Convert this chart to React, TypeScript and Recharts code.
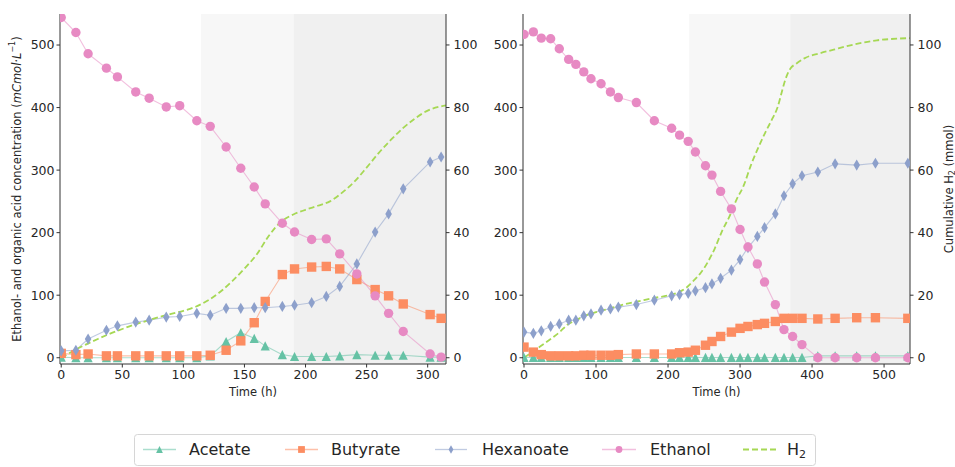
import React from 'react';
import { ComposedChart, Line, XAxis, YAxis, ReferenceArea } from 'recharts';

const FONT = '"DejaVu Sans", Verdana, sans-serif';
const C_ACE = '#66c2a5';
const C_BUT = '#fc8d62';
const C_HEX = '#8da0cb';
const C_ETH = '#e78ac3';
const C_H2 = '#a6d854';
const AXIS = '#333333';
const TXT = '#262626';

// ---------- Left panel data ----------
const leftTime = [0, 12, 22, 37, 46, 61, 72, 86, 97, 111, 122, 135, 147, 158, 167, 181, 191, 205, 217, 228, 242, 257, 268, 280, 302, 311];
const leftAcetate = [1, 0, 0, 0, 0, 0, 0, 0, 0, 0, 3, 26, 40, 31, 19, 5, 2, 2, 2, 3, 5, 4, 4, 4, 1, 1];
const leftButyrate = [7, 5, 6, 3, 3, 3, 3, 3, 3, 3, 4, 12, 27, 56, 90, 133, 142, 145, 146, 142, 125, 109, 99, 86, 69, 63];
const leftHexanoate = [11, 12, 30, 44, 51, 57, 60, 65, 66, 71, 68, 79, 79, 80, 80, 82, 84, 88, 98, 114, 150, 201, 230, 270, 313, 321];
const leftEthanol = [544, 520, 486, 463, 449, 425, 415, 401, 403, 379, 370, 337, 303, 273, 246, 215, 201, 189, 190, 166, 134, 99, 71, 42, 6, 1];
const leftH2Time = [0, 10, 20, 30, 40, 50, 60, 70, 80, 90, 100, 110, 120, 130, 140, 150, 160, 170, 180, 190, 200, 210, 220, 230, 240, 250, 260, 270, 280, 290, 300, 310, 315];
const leftH2 = [0, 2.2, 4.2, 6, 7.7, 9.2, 10.6, 11.8, 13, 14, 15, 16.3, 18.3, 21, 24.5, 28.5, 33, 39, 43.5, 45.8, 47.3, 48.6, 50, 52.8, 56.3, 60.8, 65.5, 69.7, 73.5, 76.6, 79, 80.3, 80.7];
const leftPhases = [114.5, 190.4, 315];
const leftXDomain = [-1, 315];
const leftXTicks = [0, 50, 100, 150, 200, 250, 300];

// ---------- Right panel data ----------
const rightTime = [0, 13, 24, 37, 49, 62, 72, 83, 93, 107, 120, 131, 156, 181, 205, 216, 228, 238, 252, 261, 273, 288, 300, 311, 324, 334, 349, 361, 373, 386, 408, 432, 462, 488, 533];
const rightAcetate = [0.5, 0.5, 0.5, 0.5, 0.5, 0.5, 0.5, 0.5, 0.5, 0.5, 0.5, 0.5, 0.5, 0.5, 0.5, 0.5, 0.5, 0.5, 0.5, 0.5, 0.5, 0.5, 0.5, 0.5, 0.5, 0.5, 0.5, 0.5, 0.5, 0.5, 3, 3, 3, 3, 3];
const rightButyrate = [17, 9, 5, 3, 3, 3, 3, 4, 4, 4, 4, 5, 6, 6, 6, 8, 9, 12, 20, 26, 34, 41, 47, 50, 53, 55, 58, 63, 63, 63, 62, 63, 64, 64, 63];
const rightHexanoate = [41, 39, 43, 50, 54, 60, 60, 67, 70, 76, 78, 81, 85, 92, 99, 101, 103, 107, 112, 118, 127, 140, 157, 176, 194, 208, 230, 259, 278, 291, 297, 310, 308, 311, 311];
const rightEthanol = [517, 521, 511, 510, 494, 477, 469, 457, 446, 438, 425, 416, 408, 379, 367, 356, 346, 329, 307, 292, 266, 238, 205, 177, 150, 121, 85, 45, 34, 21, 0, 0, 0, 0, 0];
const rightH2Time = [0, 10, 20, 30, 40, 50, 60, 70, 80, 90, 100, 120, 140, 160, 180, 200, 215, 225, 235, 245, 255, 265, 275, 285, 295, 305, 315, 325, 335, 345, 352, 358, 363, 370, 378, 390, 410, 430, 450, 470, 490, 510, 536];
const rightH2 = [0, 1.6, 3.2, 4.8, 6.5, 8.3, 10.5, 11.8, 12.9, 13.9, 14.6, 15.8, 17.1, 18.1, 19.1, 19.9, 21, 22.3, 24.5, 27, 30.5, 35, 40.5, 45, 50.5, 55, 61.5, 67, 72, 76.5, 80, 85, 89, 92.5, 94, 95.8, 97.3, 98.5, 99.7, 100.7, 101.5, 101.9, 102.2];
const rightPhases = [229.4, 369.7, 536];
const rightXDomain = [-1.4, 536];
const rightXTicks = [0, 100, 200, 300, 400, 500];

const concTicks = [0, 100, 200, 300, 400, 500];
const h2Ticks = [0, 20, 40, 60, 80, 100];
const concDomain = [-10, 549.6];
const h2Domain = [-2, 109.9];

const toPts = (t: number[], v: number[]) => t.map((x, i) => ({ t: x, v: v[i] }));

// ---------- markers ----------
const Tri = ({ cx, cy, s = 4.6, color = C_ACE }: any) =>
  cx == null ? null : <path d={`M${cx},${cy - s}L${cx + s},${cy + s}L${cx - s},${cy + s}Z`} fill={color} />;
const Sq = ({ cx, cy, s = 4.7, color = C_BUT }: any) =>
  cx == null ? null : <rect x={cx - s} y={cy - s} width={2 * s} height={2 * s} fill={color} />;
const Dia = ({ cx, cy, w = 3.3, h = 5.6, color = C_HEX }: any) =>
  cx == null ? null : <path d={`M${cx},${cy - h}L${cx + w},${cy}L${cx},${cy + h}L${cx - w},${cy}Z`} fill={color} />;
const Circ = ({ cx, cy, r = 4.7, color = C_ETH }: any) =>
  cx == null ? null : <circle cx={cx} cy={cy} r={r} fill={color} />;

const mk = (Comp: any) => (p: any) => <Comp key={`m${p.index}`} cx={p.cx} cy={p.cy} />;

const tickStyle = { fontSize: 12.5, fill: TXT, fontFamily: FONT };

function Panel(props: any) {
  const { width, height, leftW, rightW, xDomain, xTicks, phases, time, ace, but, hex, eth, h2t, h2 } = props;
  return (
    <ComposedChart width={width} height={height} margin={{ top: 14, right: 0, bottom: 16, left: 0 }}>
      <XAxis xAxisId="b" type="number" dataKey="t" domain={xDomain} ticks={xTicks} allowDataOverflow interval={0}
        tick={tickStyle} tickSize={3.5} tickMargin={3} height={40}
        axisLine={{ stroke: AXIS, strokeWidth: 1 }} tickLine={{ stroke: AXIS }} />
      <XAxis xAxisId="top" orientation="top" type="number" dataKey="t" domain={xDomain} allowDataOverflow
        height={0} tick={false} tickLine={false} axisLine={{ stroke: AXIS, strokeWidth: 1 }} />
      <YAxis yAxisId="left" type="number" domain={concDomain} ticks={concTicks} allowDataOverflow interval={0}
        width={leftW} tick={tickStyle} tickSize={3.5} tickMargin={2}
        axisLine={{ stroke: AXIS, strokeWidth: 1 }} tickLine={{ stroke: AXIS }} />
      <YAxis yAxisId="right" orientation="right" type="number" domain={h2Domain} ticks={h2Ticks} allowDataOverflow interval={0}
        width={rightW} tick={tickStyle} tickSize={3.5} tickMargin={4}
        axisLine={{ stroke: AXIS, strokeWidth: 1 }} tickLine={{ stroke: AXIS }} />
      <ReferenceArea xAxisId="b" yAxisId="left" x1={phases[0]} x2={phases[1]} fill="#f7f7f7" fillOpacity={1} stroke="none" ifOverflow="hidden" />
      <ReferenceArea xAxisId="b" yAxisId="left" x1={phases[1]} x2={phases[2]} fill="#f0f0f0" fillOpacity={1} stroke="none" ifOverflow="hidden" />
      <Line xAxisId="b" yAxisId="left" data={toPts(time, ace)} dataKey="v" stroke={C_ACE} strokeOpacity={0.55} strokeWidth={1.1}
        dot={mk(Tri)} activeDot={false} isAnimationActive={false} />
      <Line xAxisId="b" yAxisId="left" data={toPts(time, but)} dataKey="v" stroke={C_BUT} strokeOpacity={0.55} strokeWidth={1.1}
        dot={mk(Sq)} activeDot={false} isAnimationActive={false} />
      <Line xAxisId="b" yAxisId="left" data={toPts(time, hex)} dataKey="v" stroke={C_HEX} strokeOpacity={0.55} strokeWidth={1.1}
        dot={mk(Dia)} activeDot={false} isAnimationActive={false} />
      <Line xAxisId="b" yAxisId="left" data={toPts(time, eth)} dataKey="v" stroke={C_ETH} strokeOpacity={0.55} strokeWidth={1.1}
        dot={mk(Circ)} activeDot={false} isAnimationActive={false} />
      <Line xAxisId="b" yAxisId="right" type="monotone" data={toPts(h2t, h2)} dataKey="v" stroke={C_H2} strokeWidth={1.8}
        strokeDasharray="6 3" dot={false} activeDot={false} isAnimationActive={false} />
    </ComposedChart>
  );
}

function Overlay() {
  const legendY = 449.5;
  const handle = (x1: number, x2: number, color: string) => (
    <line x1={x1} x2={x2} y1={legendY} y2={legendY} stroke={color} strokeOpacity={0.55} strokeWidth={1.3} />
  );
  const lt = { fontSize: 16, fill: TXT, fontFamily: FONT, dominantBaseline: 'central' as const };
  return (
    <svg width={955} height={467} style={{ position: 'absolute', left: 0, top: 0, pointerEvents: 'none' }}>
      <text x={253} y={392} textAnchor="middle" dominantBaseline="central" fontSize={11.5} fill={TXT} fontFamily={FONT}>Time (h)</text>
      <text x={716.5} y={392} textAnchor="middle" dominantBaseline="central" fontSize={11.5} fill={TXT} fontFamily={FONT}>Time (h)</text>
      <text transform="translate(17,189) rotate(-90)" textAnchor="middle" dominantBaseline="central" fontSize={11.5} fill={TXT} fontFamily={FONT}>
        Ethanol- and organic acid concentration (<tspan fontStyle="italic">mCmol·L</tspan><tspan fontSize={8} dy={-5}>−1</tspan><tspan dy={5}>)</tspan>
      </text>
      <text transform="translate(949,189) rotate(-90)" textAnchor="middle" dominantBaseline="central" fontSize={11.5} fill={TXT} fontFamily={FONT}>
        Cumulative H<tspan fontSize={8} dy={3}>2</tspan><tspan dy={-3}> (mmol)</tspan>
      </text>
      <rect x={134.5} y={434.5} width={681} height={31} rx={3} fill="#ffffff" stroke="#d6d6d6" strokeWidth={1} />
      {handle(143, 176, C_ACE)}
      <Tri cx={159.5} cy={legendY} s={3.4} />
      <text x={189} y={legendY} {...lt}>Acetate</text>
      {handle(285, 318, C_BUT)}
      <Sq cx={301.5} cy={legendY} s={3.4} />
      <text x={331} y={legendY} {...lt}>Butyrate</text>
      {handle(435, 467, C_HEX)}
      <Dia cx={451} cy={legendY} w={2.4} h={4.2} />
      <text x={482} y={legendY} {...lt}>Hexanoate</text>
      {handle(602, 636, C_ETH)}
      <Circ cx={619} cy={legendY} r={3.4} />
      <text x={650} y={legendY} {...lt}>Ethanol</text>
      <line x1={743} x2={777} y1={legendY} y2={legendY} stroke={C_H2} strokeWidth={1.8} strokeDasharray="6 3" />
      <text x={787} y={legendY} {...lt}>H<tspan fontSize={11} dy={4}>2</tspan></text>
    </svg>
  );
}

export default function App() {
  return (
    <div style={{ position: 'absolute', left: 0, top: 0, width: 955, height: 467, background: '#ffffff', fontFamily: FONT, overflow: 'hidden' }}>
      <div style={{ position: 'absolute', left: 0, top: 0 }}>
        <Panel width={480} height={420} leftW={60} rightW={34} xDomain={leftXDomain} xTicks={leftXTicks} phases={leftPhases}
          time={leftTime} ace={leftAcetate} but={leftButyrate} hex={leftHexanoate} eth={leftEthanol} h2t={leftH2Time} h2={leftH2} />
      </div>
      <div style={{ position: 'absolute', left: 480, top: 0 }}>
        <Panel width={475} height={420} leftW={43} rightW={45} xDomain={rightXDomain} xTicks={rightXTicks} phases={rightPhases}
          time={rightTime} ace={rightAcetate} but={rightButyrate} hex={rightHexanoate} eth={rightEthanol} h2t={rightH2Time} h2={rightH2} />
      </div>
      <Overlay />
    </div>
  );
}
